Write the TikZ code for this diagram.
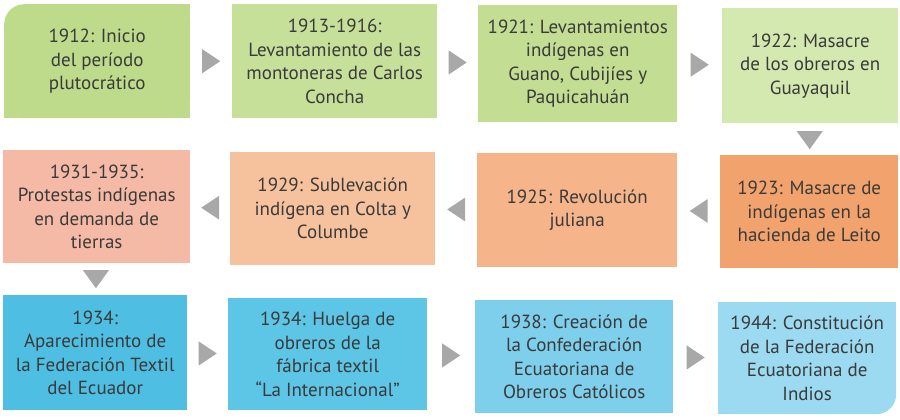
\documentclass[tikz,border=0pt]{standalone}
\usepackage{fontspec}
\setmainfont{PT Sans}
\usetikzlibrary{calc,backgrounds}
\definecolor{grA}{HTML}{BEDB8C}
\definecolor{grB}{HTML}{C6E09A}
\definecolor{grC}{HTML}{C3DE92}
\definecolor{grD}{HTML}{D4E9B0}
\definecolor{orA}{HTML}{F5BAA6}
\definecolor{orB}{HTML}{F6C19D}
\definecolor{orC}{HTML}{F5B489}
\definecolor{orD}{HTML}{F2A36D}
\definecolor{blA}{HTML}{4EBFE2}
\definecolor{blB}{HTML}{5DC5E6}
\definecolor{blC}{HTML}{7ECFEB}
\definecolor{blD}{HTML}{9BDAF0}
\definecolor{trigray}{HTML}{A8A8A8}
\definecolor{ink}{HTML}{3A3A3A}
\tikzset{
  box/.style={anchor=north west, inner sep=0pt, align=center, text=ink,
    font=\fontsize{19}{23.5}\selectfont},
  rtri/.pic={\fill[trigray] (-9,-12) -- (9,0) -- (-9,12) -- cycle;},
  ltri/.pic={\fill[trigray] (9,-12) -- (-9,0) -- (9,12) -- cycle;},
  dtri/.pic={\fill[trigray] (-13,-9) -- (13,-9) -- (0,9) -- cycle;}
}
\begin{document}
\begin{tikzpicture}[x=1pt,y=-1pt]
\useasboundingbox (0,0) rectangle (900,420);
% first row
\node[box, fill=grA, rounded corners=20pt, minimum width=186pt, minimum height=114pt] (b1) at (4,4)
  {1912: Inicio\\del período\\plutocrático};
\node[box, fill=grB, minimum width=205pt, minimum height=114pt] (b2) at (232,4)
  {1913-1916:\\Levantamiento de las\\montoneras de Carlos\\Concha};
\node[box, fill=grC, minimum width=199pt, minimum height=117pt] (b3) at (478,5)
  {1921: Levantamientos\\indígenas en\\Guano, Cubijíes y\\Paquicahuán};
\node[box, fill=grD, minimum width=176pt, minimum height=115pt] (b4) at (722,8)
  {1922: Masacre\\de los obreros en\\Guayaquil};
% second row
\node[box, fill=orA, minimum width=187pt, minimum height=113pt] (c1) at (3,150)
  {1931-1935:\\Protestas indígenas\\en demanda de\\tierras};
\node[box, fill=orB, minimum width=205pt, minimum height=113pt] (c2) at (230,152)
  {1929: Sublevación\\indígena en Colta y\\Columbe};
\node[box, fill=orC, minimum width=200pt, minimum height=114pt] (c3) at (477,153)
  {1925: Revolución\\juliana};
\node[box, fill=orD, minimum width=178pt, minimum height=113pt] (c4) at (720,155)
  {1923: Masacre de\\indígenas en la\\hacienda de Leito};
% third row
\node[box, fill=blA, minimum width=184pt, minimum height=115pt] (d1) at (3,295)
  {1934:\\Aparecimiento de\\la Federación Textil\\del Ecuador};
\node[box, fill=blB, minimum width=199pt, minimum height=112pt] (d2) at (228,298)
  {1934: Huelga de\\obreros de la\\fábrica textil\\“La Internacional”};
\node[box, fill=blC, minimum width=198pt, minimum height=113pt] (d3) at (475,300)
  {1938: Creación de\\la Confederación\\Ecuatoriana de\\Obreros Católicos};
\node[box, fill=blD, rounded corners=20pt, minimum width=178pt, minimum height=112pt] (d4) at (718,302)
  {1944: Constitución\\de la Federación\\Ecuatoriana de\\Indios};
% square off the other corners
\begin{scope}[on background layer]
\fill[grA] (b1.north) rectangle (b1.south east);
\fill[grA] (b1.west) rectangle (b1.south east);
\fill[blD] (d4.north west) rectangle (d4.south);
\fill[blD] (d4.north west) rectangle (d4.east);
\end{scope}
% arrows
\pic at ($(b1.east)!.5!(b2.west)$) {rtri};
\pic at ($(b2.east)!.5!(b3.west)$) {rtri};
\pic at ($(b3.east)!.5!(b4.west)$) {rtri};
\pic at ($(b4.south)!.5!(c4.north)+(0,1)$) {dtri};
\pic at ($(c4.west)!.5!(c3.east)$) {ltri};
\pic at ($(c3.west)!.5!(c2.east)$) {ltri};
\pic at ($(c2.west)!.5!(c1.east)$) {ltri};
\pic at ($(c1.south)!.5!(d1.north)$) {dtri};
\pic at ($(d1.east)!.5!(d2.west)$) {rtri};
\pic at ($(d2.east)!.5!(d3.west)$) {rtri};
\pic at ($(d3.east)!.5!(d4.west)$) {rtri};
\end{tikzpicture}
\end{document}
